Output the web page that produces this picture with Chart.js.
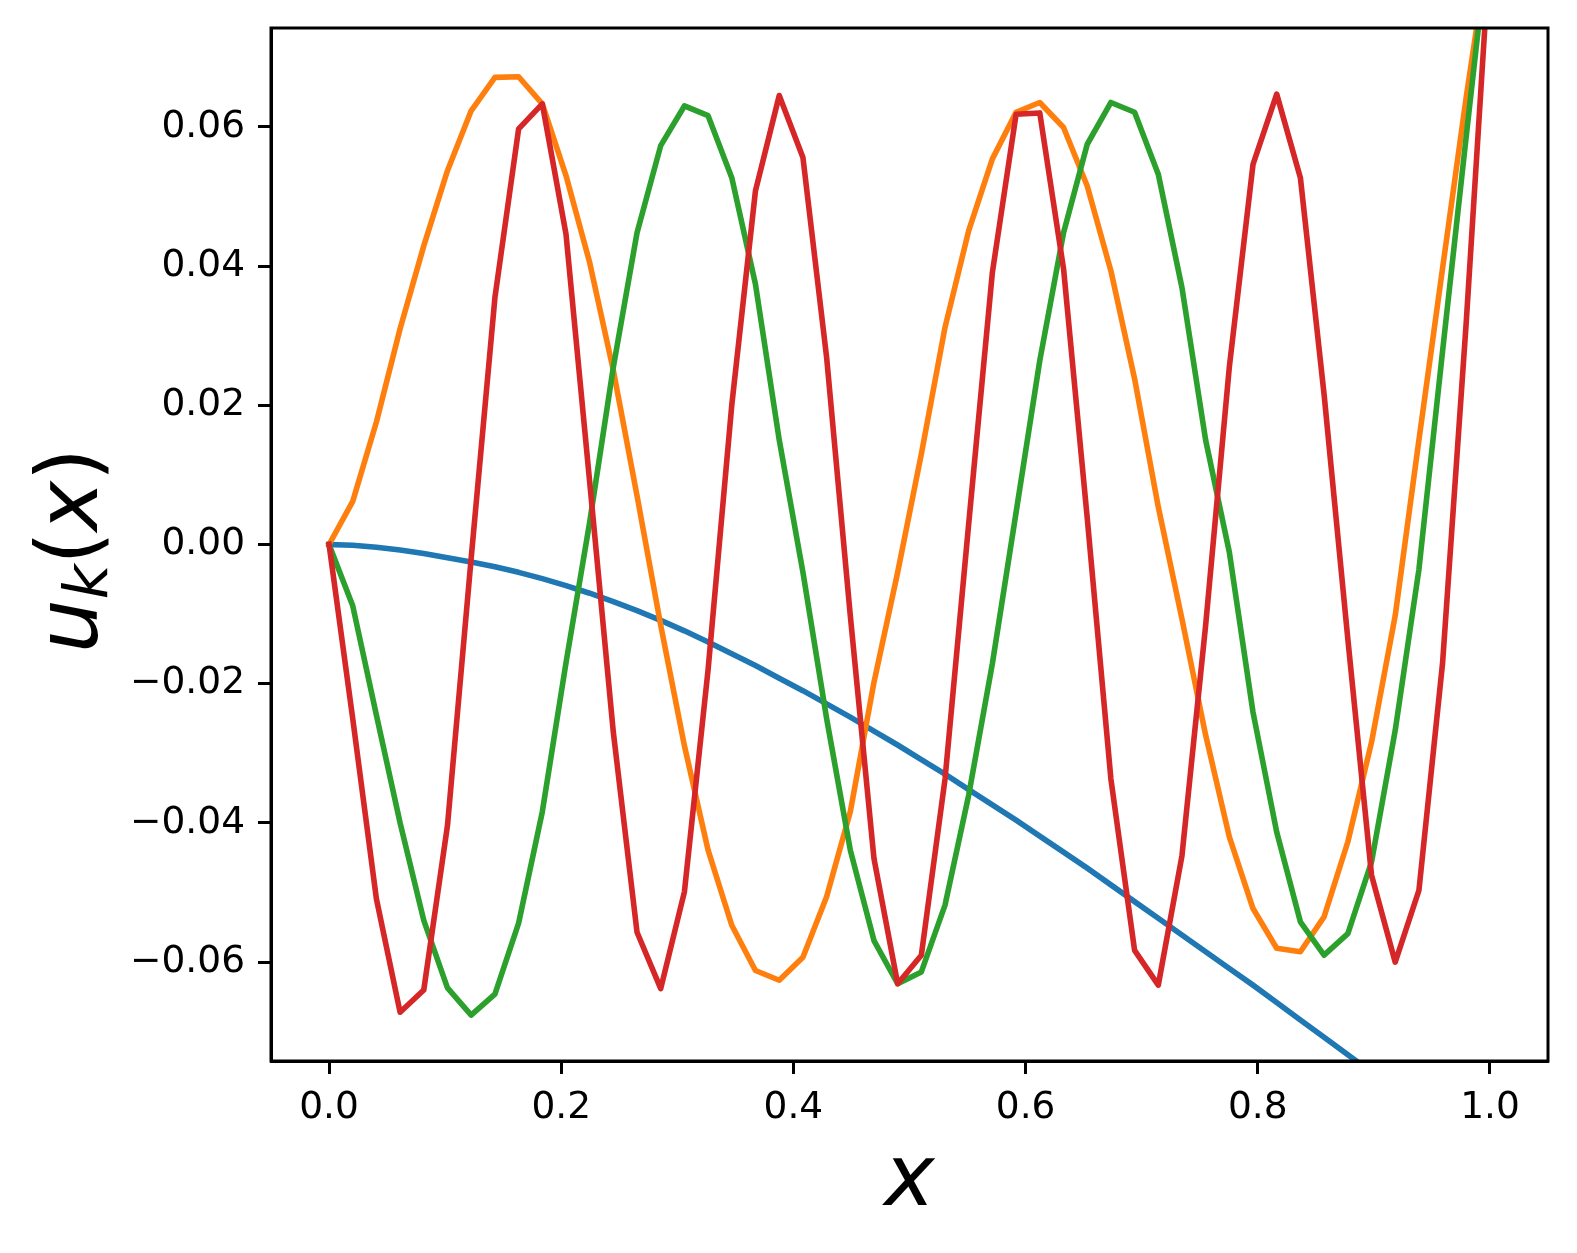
<!DOCTYPE html>
<html>
<head>
<meta charset="utf-8">
<script src="https://cdn.jsdelivr.net/npm/chart.js@4.4.0/dist/chart.umd.min.js"></script>
<style>
  html, body { margin: 0; padding: 0; background: #fff; }
</style>
</head>
<body>
<canvas id="chart" width="1577" height="1253"></canvas>
<script>
// sample positions (50 points on [0, 1])
const xs = [0, 0.0204, 0.0408, 0.0612, 0.0816, 0.1020, 0.1224, 0.1429, 0.1633, 0.1837,
  0.2041, 0.2245, 0.2449, 0.2653, 0.2857, 0.3061, 0.3265, 0.3469, 0.3673, 0.3878,
  0.4082, 0.4286, 0.4490, 0.4694, 0.4898, 0.5102, 0.5306, 0.5510, 0.5714, 0.5918,
  0.6122, 0.6327, 0.6531, 0.6735, 0.6939, 0.7143, 0.7347, 0.7551, 0.7755, 0.7959,
  0.8163, 0.8367, 0.8571, 0.8776, 0.8980, 0.9184, 0.9388, 0.9592, 0.9796, 1.0];

// u_k(x) for the four modes
const blue = [0, -0.0001, -0.0004, -0.0008, -0.0013, -0.0019, -0.0025, -0.0032, -0.0040, -0.0049,
  -0.0059, -0.0070, -0.0082, -0.0095, -0.0109, -0.0124, -0.0140, -0.0157, -0.0174, -0.0192,
  -0.0210, -0.0229, -0.0248, -0.0268, -0.0288, -0.0309, -0.0330, -0.0352, -0.0374, -0.0396,
  -0.0419, -0.0442, -0.0465, -0.0489, -0.0513, -0.0537, -0.0561, -0.0585, -0.0609, -0.0633,
  -0.0658, -0.0683, -0.0708, -0.0733, -0.0758, -0.0783, -0.0808, -0.0833, -0.0858, -0.0883];

const orange = [0, 0.0062, 0.0176, 0.0310, 0.0429, 0.0537, 0.0623, 0.0671, 0.0672, 0.0633,
  0.0530, 0.0405, 0.0250, 0.0070, -0.0116, -0.0289, -0.0439, -0.0547, -0.0612, -0.0626,
  -0.0593, -0.0506, -0.0384, -0.0198, -0.0040, 0.0130, 0.0312, 0.0451, 0.0554, 0.0621,
  0.0635, 0.0599, 0.0515, 0.0393, 0.0238, 0.0054, -0.0107, -0.0274, -0.0420, -0.0523,
  -0.0580, -0.0585, -0.0535, -0.0427, -0.0284, -0.0102, 0.0150, 0.0397, 0.0643, 0.0870];

const green = [0, -0.0088, -0.0245, -0.0400, -0.0540, -0.0637, -0.0676, -0.0646, -0.0544, -0.0384,
  -0.0170, 0.0032, 0.0255, 0.0448, 0.0573, 0.0630, 0.0616, 0.0527, 0.0374, 0.0150,
  -0.0040, -0.0250, -0.0439, -0.0569, -0.0631, -0.0614, -0.0518, -0.0360, -0.0171, 0.0046,
  0.0264, 0.0448, 0.0575, 0.0635, 0.0621, 0.0532, 0.0369, 0.0150, -0.0011, -0.0241,
  -0.0413, -0.0542, -0.0590, -0.0559, -0.0456, -0.0267, -0.0036, 0.0278, 0.0587, 0.0890];

const red = [0, -0.0250, -0.0509, -0.0672, -0.0640, -0.0404, -0.0020, 0.0355, 0.0597, 0.0633,
  0.0446, 0.0090, -0.0270, -0.0557, -0.0638, -0.0499, -0.0180, 0.0200, 0.0508, 0.0645,
  0.0556, 0.0269, -0.0102, -0.0451, -0.0631, -0.0590, -0.0337, 0.0030, 0.0391, 0.0618,
  0.0620, 0.0396, 0.0038, -0.0337, -0.0583, -0.0633, -0.0447, -0.0116, 0.0255, 0.0546,
  0.0647, 0.0527, 0.0216, -0.0136, -0.0475, -0.0600, -0.0497, -0.0170, 0.0320, 0.0860];

const xTicks = [0, 0.2, 0.4, 0.6, 0.8, 1.0];
const yTicks = [-0.06, -0.04, -0.02, 0, 0.02, 0.04, 0.06];

const seriesList = [blue, orange, green, red];
const colors = ['#1f77b4', '#ff7f0e', '#2ca02c', '#d62728'];

const tickFont = { family: 'DejaVu Sans', size: 37.5 };

// frame on all four sides + axis labels (matplotlib style)
const framePlugin = {
  id: 'frame',
  afterDraw(chart) {
    const { ctx, chartArea: a } = chart;
    ctx.save();
    ctx.strokeStyle = '#000';
    ctx.lineWidth = 3;
    ctx.strokeRect(a.left, a.top, a.right - a.left, a.bottom - a.top);

    ctx.fillStyle = '#000';
    ctx.textBaseline = 'alphabetic';
    ctx.textAlign = 'left';

    // x label
    ctx.font = 'italic 85px "DejaVu Sans"';
    const wx = ctx.measureText('x').width;
    ctx.fillText('x', (a.left + a.right) / 2 - wx / 2, 1205);

    // y label: u_k(x), rotated
    const parts = [
      { t: 'u', f: 'italic 85px "DejaVu Sans"', dy: 0 },
      { t: 'k', f: 'italic 60px "DejaVu Sans"', dy: 10 },
      { t: '(', f: '85px "DejaVu Sans"', dy: 0 },
      { t: 'x', f: 'italic 85px "DejaVu Sans"', dy: 0 },
      { t: ')', f: '85px "DejaVu Sans"', dy: 0 },
    ];
    let total = 0;
    parts.forEach(p => { ctx.font = p.f; p.w = ctx.measureText(p.t).width; total += p.w; });
    ctx.translate(97, (a.top + a.bottom) / 2 + 6);
    ctx.rotate(-Math.PI / 2);
    let cx = -total / 2;
    parts.forEach(p => {
      ctx.font = p.f;
      ctx.fillText(p.t, cx, p.dy);
      cx += p.w;
    });
    ctx.restore();
  }
};

const ctx = document.getElementById('chart').getContext('2d');
new Chart(ctx, {
  type: 'line',
  data: {
    datasets: seriesList.map((s, i) => ({
      data: s.map((v, j) => ({ x: xs[j], y: v })),
      borderColor: colors[i],
      backgroundColor: colors[i],
      borderWidth: 5.6,
      pointRadius: 0,
      tension: 0,
      fill: false,
      borderJoinStyle: 'round',
      borderCapStyle: 'square',
      order: 3 - i, // later series on top, like matplotlib
    })),
  },
  options: {
    responsive: false,
    animation: false,
    devicePixelRatio: 1,
    layout: { padding: { left: 0, right: 29, top: 28, bottom: 0 } },
    plugins: { legend: { display: false }, tooltip: { enabled: false } },
    scales: {
      x: {
        type: 'linear',
        position: 'bottom',
        min: -0.05,
        max: 1.05,
        afterBuildTicks: s => { s.ticks = xTicks.map(v => ({ value: v })); },
        afterFit: s => { s.height = 192; s.paddingLeft = 0; s.paddingRight = 0; },
        ticks: {
          callback: v => v.toFixed(1),
          font: tickFont,
          color: '#000',
          padding: 12,
          maxRotation: 0,
          autoSkip: false,
        },
        grid: { drawOnChartArea: false, drawTicks: true, tickLength: 13, tickWidth: 3, tickColor: '#000' },
        border: { display: true, color: '#000', width: 3 },
      },
      y: {
        type: 'linear',
        min: -0.0742,
        max: 0.0742,
        afterBuildTicks: s => { s.ticks = yTicks.map(v => ({ value: v })); },
        afterFit: s => { s.width = 271; s.paddingTop = 0; s.paddingBottom = 0; },
        ticks: {
          callback: v => (v < 0 ? '\u2212' : '') + Math.abs(v).toFixed(2),
          font: tickFont,
          color: '#000',
          padding: 13,
          autoSkip: false,
        },
        grid: { drawOnChartArea: false, drawTicks: true, tickLength: 13, tickWidth: 3, tickColor: '#000' },
        border: { display: true, color: '#000', width: 3 },
      },
    },
  },
  plugins: [framePlugin],
});
</script>
</body>
</html>
